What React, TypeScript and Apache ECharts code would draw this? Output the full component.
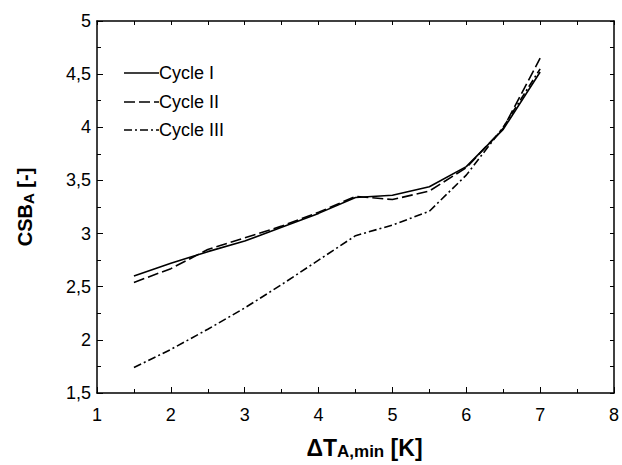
import React, { useEffect, useRef } from "react";
import * as echarts from "echarts";

const xValues = [1.5, 2, 2.5, 3, 3.5, 4, 4.5, 5, 5.5, 6, 6.5, 7];
const cycleI = [2.6, 2.72, 2.83, 2.93, 3.06, 3.19, 3.34, 3.36, 3.44, 3.63, 3.98, 4.52];
const cycleII = [2.54, 2.67, 2.85, 2.96, 3.07, 3.2, 3.35, 3.32, 3.4, 3.62, 3.99, 4.65];
const cycleIII = [1.74, 1.91, 2.1, 2.3, 2.52, 2.75, 2.98, 3.08, 3.21, 3.55, 4.0, 4.55];
const seriesNames = ["Cycle I", "Cycle II", "Cycle III"];

const FONT = "'Liberation Sans', Arial, sans-serif";

export default function App() {
  const ref = useRef<HTMLDivElement>(null);
  useEffect(() => {
    if (!ref.current) return;
    const chart = echarts.init(ref.current, null, { renderer: "svg" });
    const pairs = (ys: number[]) => xValues.map((x, i) => [x, ys[i]]);
    const dashes: any[] = ["solid", [11, 4], [8, 3, 2, 3]];
    const datasets = [cycleI, cycleII, cycleIII];
    const fmt = (v: number) => String(v).replace(".", ",");
    const legendY = [73, 102, 130];
    const graphics: any[] = [];
    seriesNames.forEach((n, i) => {
      graphics.push({
        type: "line",
        shape: { x1: 124, y1: legendY[i], x2: 159, y2: legendY[i] },
        style: { stroke: "#000", lineWidth: 1.5, lineDash: i === 0 ? null : dashes[i] },
        silent: true,
      });
      graphics.push({
        type: "text",
        x: 159,
        y: legendY[i],
        style: { text: n, fill: "#000", font: `18px ${FONT}`, textVerticalAlign: "middle" },
        silent: true,
      });
    });
    chart.setOption({
      animation: false,
      backgroundColor: "#fff",
      grid: { left: 97, right: 5, top: 21, bottom: 70, containLabel: false },
      xAxis: [
        {
          type: "value",
          min: 1,
          max: 8,
          interval: 1,
          position: "bottom",
          name: "{b|ΔT}{s|A,min}{b| [K]}",
          nameLocation: "middle",
          nameGap: 42,
          nameTextStyle: {
            padding: [0, 0, 0, 18],
            rich: {
              b: { fontFamily: FONT, fontSize: 23, fontWeight: "bold", color: "#000" },
              s: { fontFamily: FONT, fontSize: 17, fontWeight: "bold", color: "#000", padding: [8, 0, 0, 0] },
            },
          },
          axisLine: { lineStyle: { color: "#000", width: 1.5 } },
          axisTick: { inside: true, length: 6, lineStyle: { color: "#000" } },
          minorTick: { show: true, splitNumber: 2, length: 4, lineStyle: { color: "#000" } },
          axisLabel: { color: "#000", fontFamily: FONT, fontSize: 18, margin: 13 },
          splitLine: { show: false },
        },
        {
          type: "value",
          min: 1,
          max: 8,
          interval: 0.5,
          position: "top",
          axisLine: { lineStyle: { color: "#000", width: 1.5 } },
          axisTick: { inside: true, length: 4, lineStyle: { color: "#000" } },
          axisLabel: { show: false },
          splitLine: { show: false },
        },
      ],
      yAxis: [
        {
          type: "value",
          min: 1.5,
          max: 5,
          interval: 0.5,
          position: "left",
          name: "{b|CSB}{s|A}{b| [-]}",
          nameLocation: "middle",
          nameRotate: 90,
          nameGap: 61,
          nameTextStyle: {
            rich: {
              b: { fontFamily: FONT, fontSize: 20, fontWeight: "bold", color: "#000" },
              s: { fontFamily: FONT, fontSize: 15, fontWeight: "bold", color: "#000", padding: [8, 0, 0, 0] },
            },
          },
          axisLine: { show: true, lineStyle: { color: "#000", width: 1.5 } },
          axisTick: { inside: true, length: 6, lineStyle: { color: "#000" } },
          minorTick: { show: true, splitNumber: 2, length: 4, lineStyle: { color: "#000" } },
          axisLabel: { color: "#000", fontFamily: FONT, fontSize: 18, margin: 6, formatter: fmt },
          splitLine: { show: false },
        },
        {
          type: "value",
          min: 1.5,
          max: 5,
          interval: 0.25,
          position: "right",
          axisLine: { show: true, lineStyle: { color: "#000", width: 1.5 } },
          axisTick: { inside: true, length: 4, lineStyle: { color: "#000" } },
          axisLabel: { show: false },
          splitLine: { show: false },
        },
      ],
      series: datasets.map((d, i) => ({
        name: seriesNames[i],
        type: "line",
        xAxisIndex: 0,
        yAxisIndex: 0,
        data: pairs(d),
        showSymbol: false,
        symbol: "none",
        lineStyle: { color: "#000", width: 1.6, type: dashes[i] },
      })),
      graphic: graphics,
    });
    return () => chart.dispose();
  }, []);
  return (
    <div
      ref={ref}
      style={{ position: "fixed", left: 0, top: 0, width: 622, height: 465, overflow: "hidden", background: "#fff" }}
    />
  );
}
